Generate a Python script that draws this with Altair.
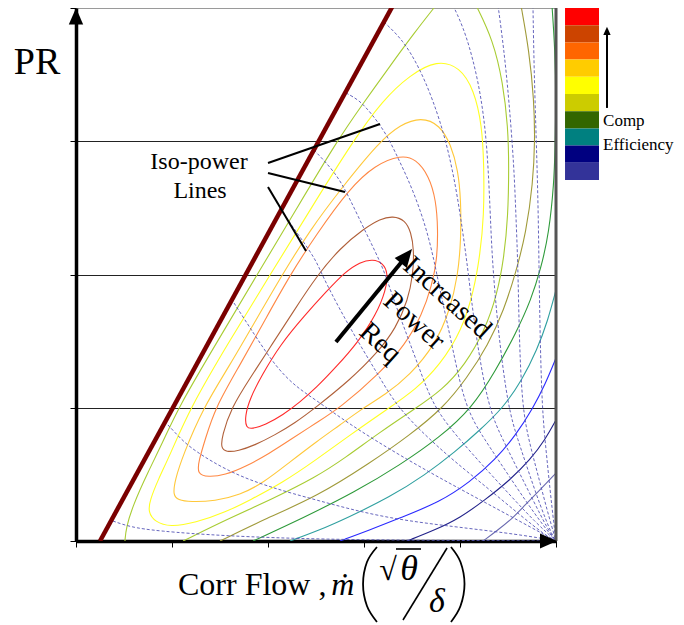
import altair as alt
import pandas as pd

# ---------------- values ----------------
# x : corrected flow (axis 0..5, unlabelled ticks), y : pressure ratio (axis 0..4)
surge_x = [0.25, 3.302]
surge_y = [0.0, 4.02]

# efficiency islands (closed)
red_x = [1.771, 1.760, 1.813, 1.938, 2.125, 2.385, 2.604, 2.802, 2.958, 3.094, 3.198, 3.250, 3.229, 3.125, 2.938, 2.719, 2.500, 2.333, 2.156, 1.969, 1.833]
red_y = [0.848, 0.938, 1.073, 1.246, 1.471, 1.696, 1.869, 2.019, 2.094, 2.116, 2.086, 2.011, 1.884, 1.696, 1.493, 1.313, 1.148, 1.043, 0.946, 0.871, 0.841]
brown_x = [1.510, 1.521, 1.615, 1.813, 2.052, 2.281, 2.500, 2.750, 3.010, 3.167, 3.302, 3.427, 3.490, 3.521, 3.510, 3.458, 3.333, 3.146, 2.854, 2.490, 2.281, 2.073, 1.865, 1.688, 1.563]
brown_y = [0.698, 0.788, 0.998, 1.223, 1.486, 1.741, 1.981, 2.199, 2.349, 2.417, 2.439, 2.409, 2.319, 2.184, 1.996, 1.809, 1.598, 1.418, 1.208, 0.998, 0.886, 0.796, 0.720, 0.675, 0.668]
orange_x = [1.260, 1.281, 1.344, 1.448, 1.708, 1.969, 2.229, 2.500, 2.844, 3.115, 3.385, 3.542, 3.677, 3.750, 3.771, 3.760, 3.708, 3.604, 3.427, 3.167, 2.750, 2.500, 2.229, 2.021, 1.760, 1.552, 1.375]
orange_y = [0.503, 0.608, 0.758, 0.998, 1.321, 1.659, 1.996, 2.296, 2.642, 2.822, 2.897, 2.867, 2.739, 2.559, 2.334, 2.109, 1.921, 1.696, 1.471, 1.261, 0.998, 0.886, 0.758, 0.660, 0.555, 0.495, 0.480]
gold_x = [1.010, 1.031, 1.115, 1.323, 1.604, 1.875, 2.146, 2.438, 2.750, 3.167, 3.375, 3.594, 3.792, 3.906, 3.979, 4.010, 4.010, 3.979, 3.896, 3.740, 3.479, 3.219, 2.990, 2.750, 2.500, 2.229, 1.948, 1.708, 1.448, 1.188, 1.063]
gold_y = [0.345, 0.458, 0.645, 0.998, 1.321, 1.659, 1.996, 2.334, 2.634, 3.002, 3.122, 3.182, 3.122, 2.972, 2.784, 2.559, 2.259, 1.996, 1.734, 1.471, 1.246, 1.096, 0.998, 0.871, 0.743, 0.593, 0.435, 0.345, 0.300, 0.293, 0.308]
yellow_x = [0.750, 0.771, 0.854, 0.979, 1.188, 1.604, 2.021, 2.438, 2.885, 3.198, 3.479, 3.760, 4.000, 4.146, 4.229, 4.250, 4.250, 4.208, 4.146, 4.021, 3.792, 3.531, 3.260, 2.854, 2.500, 2.146, 1.813, 1.563, 1.240, 0.979, 0.823]
yellow_y = [0.218, 0.308, 0.458, 0.645, 0.998, 1.508, 1.996, 2.484, 3.002, 3.310, 3.497, 3.610, 3.557, 3.385, 3.122, 2.814, 2.439, 2.146, 1.884, 1.583, 1.321, 1.133, 0.998, 0.796, 0.608, 0.435, 0.308, 0.218, 0.135, 0.105, 0.143]

# efficiency lines cut by the map boundary (open)
yga_x = [0.510, 0.521, 0.594, 0.750, 0.906, 1.063, 1.469, 1.885, 2.302, 2.719, 2.979, 3.271, 3.531, 3.750]
yga_y = [0.0, 0.098, 0.270, 0.518, 0.743, 0.998, 1.493, 1.996, 2.499, 3.002, 3.272, 3.565, 3.820, 4.020]
ygb_x = [4.167, 4.344, 4.448, 4.500, 4.510, 4.500, 4.458, 4.385, 4.260, 4.052, 3.813, 3.542, 3.167, 2.802, 2.500, 2.021, 1.604, 1.115]
ygb_y = [4.020, 3.760, 3.437, 3.107, 2.807, 2.432, 2.124, 1.846, 1.583, 1.321, 1.133, 0.998, 0.818, 0.623, 0.480, 0.308, 0.173, 0.0]
olive_x = [4.635, 4.719, 4.771, 4.781, 4.760, 4.688, 4.583, 4.458, 4.292, 4.073, 3.823, 3.479, 3.063, 2.500, 1.990, 1.500]
olive_y = [4.020, 3.685, 3.310, 3.002, 2.687, 2.311, 2.019, 1.734, 1.471, 1.223, 0.998, 0.796, 0.585, 0.330, 0.173, 0.0]
green_x = [4.958, 4.990, 5.000, 4.990, 4.979, 4.927, 4.844, 4.740, 4.583, 4.375, 4.125, 3.792, 3.375, 2.906, 2.365, 1.844]
green_y = [4.020, 3.685, 3.310, 2.934, 2.687, 2.311, 2.049, 1.809, 1.561, 1.283, 0.998, 0.780, 0.570, 0.368, 0.173, 0.0]
teal_x = [5.000, 4.917, 4.802, 4.646, 4.448, 4.208, 3.948, 3.635, 3.271, 2.823, 2.542, 2.229]
teal_y = [1.884, 1.659, 1.433, 1.208, 0.998, 0.833, 0.668, 0.495, 0.330, 0.173, 0.083, 0.0]
blue_x = [5.000, 4.885, 4.760, 4.583, 4.365, 4.104, 3.792, 3.375, 3.063, 2.750]
blue_y = [1.373, 1.171, 0.998, 0.796, 0.608, 0.443, 0.293, 0.173, 0.083, 0.0]
navy_x = [5.000, 4.885, 4.729, 4.521, 4.260, 4.000, 3.740, 3.448]
navy_y = [0.908, 0.758, 0.608, 0.458, 0.308, 0.173, 0.083, 0.0]
slate_x = [5.000, 4.833, 4.677, 4.552, 4.396, 4.240]
slate_y = [0.510, 0.383, 0.270, 0.173, 0.083, 0.0]

# iso-power lines (dashed)
d1_x = [0.385, 0.563, 0.844, 1.531, 2.573, 3.896, 5.000]
d1_y = [0.150, 0.105, 0.075, 0.038, 0.011, 0.004, 0.0]
d2_x = [0.958, 1.083, 1.219, 1.594, 2.010, 2.500, 3.198, 3.969, 4.490, 4.833, 5.000]
d2_y = [0.871, 0.773, 0.683, 0.518, 0.405, 0.308, 0.173, 0.105, 0.060, 0.023, 0.0]
d3_x = [1.646, 1.760, 1.875, 2.083, 2.292, 2.500, 2.844, 3.365, 3.885, 4.406, 4.865, 5.000]
d3_y = [1.786, 1.659, 1.531, 1.306, 1.156, 1.058, 0.878, 0.645, 0.435, 0.233, 0.053, 0.0]
d4_x = [2.156, 2.333, 2.500, 2.563, 2.750, 2.958, 3.167, 3.354, 3.688, 4.000, 4.313, 4.625, 4.885, 5.000]
d4_y = [2.462, 2.282, 2.109, 1.996, 1.734, 1.471, 1.223, 0.998, 0.758, 0.563, 0.383, 0.195, 0.045, 0.0]
d5_x = [2.479, 2.708, 2.844, 3.021, 3.198, 3.292, 3.427, 3.583, 3.729, 4.000, 4.260, 4.521, 4.781, 5.000]
d5_y = [2.934, 2.762, 2.582, 2.311, 2.056, 1.846, 1.583, 1.283, 0.998, 0.758, 0.548, 0.345, 0.143, 0.0]
d6_x = [2.813, 2.948, 3.073, 3.229, 3.365, 3.510, 3.646, 3.729, 3.792, 3.917, 4.052, 4.260, 4.469, 4.677, 4.885, 5.000]
d6_y = [3.362, 3.310, 3.212, 3.062, 2.859, 2.634, 2.357, 2.109, 1.884, 1.471, 0.998, 0.758, 0.533, 0.308, 0.098, 0.0]
d7_x = [3.208, 3.406, 3.573, 3.719, 3.854, 3.958, 4.031, 4.083, 4.156, 4.292, 4.448, 4.604, 4.760, 4.917, 5.000]
d7_y = [3.895, 3.760, 3.557, 3.310, 3.009, 2.657, 2.311, 2.034, 1.583, 0.998, 0.758, 0.533, 0.308, 0.083, 0.0]
d8_x = [3.927, 4.063, 4.198, 4.271, 4.302, 4.323, 4.344, 4.396, 4.500, 4.604, 4.708, 4.833, 4.958, 5.000]
d8_y = [4.020, 3.812, 3.437, 3.062, 2.687, 2.311, 2.034, 1.583, 0.998, 0.758, 0.533, 0.270, 0.045, 0.0]
d9_x = [4.396, 4.458, 4.510, 4.563, 4.583, 4.604, 4.615, 4.646, 4.729, 4.813, 4.906, 5.000]
d9_y = [4.020, 3.685, 3.310, 2.807, 2.432, 2.056, 1.583, 0.998, 0.720, 0.495, 0.233, 0.0]
d10_x = [4.760, 4.771, 4.792, 4.813, 4.823, 4.833, 4.854, 4.896, 4.938, 4.979, 5.000]
d10_y = [4.020, 3.557, 3.062, 2.559, 2.056, 1.583, 0.998, 0.683, 0.383, 0.120, 0.0]

# legend (comp efficiency, top = highest)
legend_colors = ["#FF0000", "#CC4400", "#FF6600", "#FFCC00", "#FFFF00",
                 "#CCCC00", "#336600", "#008080", "#000080", "#333399"]

# annotation pointers ("Iso-power Lines")
ptr_x = [2.0, 2.0, 2.0]
ptr_y = [2.837, 2.762, 2.657]
ptr_x2 = [3.167, 2.802, 2.396]
ptr_y2 = [3.129, 2.619, 2.176]

# big brackets of the flow-parameter title
lpar_x = [3.135, 3.031, 2.990, 3.031, 3.135]
rpar_x = [3.906, 4.005, 4.047, 4.005, 3.906]
par_y = [-0.045, -0.158, -0.323, -0.488, -0.608]

# ---------------- build chart ----------------
closed_curves = [
    ("red", red_x, red_y, "#FF2A2A"),
    ("brown", brown_x, brown_y, "#B0603A"),
    ("orange", orange_x, orange_y, "#FF8844"),
    ("gold", gold_x, gold_y, "#FFC83A"),
    ("yellow", yellow_x, yellow_y, "#FFFF22"),
]
open_curves = [
    ("yga", yga_x, yga_y, "#A8CC33"),
    ("ygb", ygb_x, ygb_y, "#A8CC33"),
    ("olive", olive_x, olive_y, "#A09A3A"),
    ("green", green_x, green_y, "#2E9A3A"),
    ("teal", teal_x, teal_y, "#30A0A0"),
    ("blue", blue_x, blue_y, "#2A2AFF"),
    ("navy", navy_x, navy_y, "#22228A"),
    ("slate", slate_x, slate_y, "#6A6AB0"),
]
dashed_curves = [
    ("d1", d1_x, d1_y), ("d2", d2_x, d2_y), ("d3", d3_x, d3_y), ("d4", d4_x, d4_y),
    ("d5", d5_x, d5_y), ("d6", d6_x, d6_y), ("d7", d7_x, d7_y), ("d8", d8_x, d8_y),
    ("d9", d9_x, d9_y), ("d10", d10_x, d10_y),
]
paren_curves = [("lp", lpar_x, par_y), ("rp", rpar_x, par_y)]


def curves_df(curves):
    rows = []
    for c in curves:
        name, xs, ys = c[0], c[1], c[2]
        col = c[3] if len(c) > 3 else "#000"
        for i, (a, b) in enumerate(zip(xs, ys)):
            rows.append({"curve": name, "i": i, "x": a, "y": b, "color": col})
    return pd.DataFrame(rows)


X = alt.X("x:Q", scale=alt.Scale(domain=[0, 5], nice=False, zero=False),
          axis=alt.Axis(values=[0, 1, 2, 3, 4, 5], labels=False, grid=False,
                        domainColor="black", domainWidth=3.5, tickColor="black",
                        tickWidth=1, tickSize=6, title=None))
Y = alt.Y("y:Q", scale=alt.Scale(domain=[0, 4], nice=False, zero=False),
          axis=alt.Axis(values=[0, 1, 2, 3, 4], labels=False, grid=True,
                        gridColor=alt.condition("datum.value == 4", alt.value("#9a9a9a"), alt.value("#222222")),
                        gridWidth=1, gridOpacity=1,
                        domainColor="black", domainWidth=3.5, tickColor="black",
                        tickWidth=1, tickSize=6, title=None))

closed_layer = alt.Chart(curves_df(closed_curves)).mark_line(
    interpolate="basis-closed", strokeWidth=1.1, clip=True
).encode(x=X, y=Y, color=alt.Color("color:N", scale=None), detail="curve:N", order="i:Q")

open_layer = alt.Chart(curves_df(open_curves)).mark_line(
    interpolate="basis", strokeWidth=1.1, clip=True
).encode(x="x:Q", y="y:Q", color=alt.Color("color:N", scale=None), detail="curve:N", order="i:Q")

dashed_layer = alt.Chart(curves_df(dashed_curves)).mark_line(
    interpolate="basis", strokeWidth=0.9, strokeDash=[3, 2], color="#5555B5", clip=True
).encode(x="x:Q", y="y:Q", detail="curve:N", order="i:Q")

surge_layer = alt.Chart(pd.DataFrame({"x": surge_x, "y": surge_y, "i": [0, 1]})).mark_line(
    color="#7A0000", strokeWidth=4.5, clip=True
).encode(x="x:Q", y="y:Q", order="i:Q")

border_layer = alt.Chart(pd.DataFrame({"x": [5.0], "y": [0.0], "y2": [4.0]})).mark_rule(
    color="#555555", strokeWidth=3
).encode(x="x:Q", y="y:Q", y2="y2:Q")

ptr_layer = alt.Chart(pd.DataFrame({"x": ptr_x, "y": ptr_y, "x2": ptr_x2, "y2": ptr_y2})).mark_rule(
    color="black", strokeWidth=2
).encode(x="x:Q", y="y:Q", x2="x2:Q", y2="y2:Q")

shaft_layer = alt.Chart(pd.DataFrame({"x": [2.708], "y": [1.493], "x2": [3.417], "y2": [2.116]})).mark_rule(
    color="black", strokeWidth=4
).encode(x="x:Q", y="y:Q", x2="x2:Q", y2="y2:Q")

leg_shaft = alt.Chart(pd.DataFrame({"x": [5.531], "y": [3.250], "y2": [3.80]})).mark_rule(
    color="black", strokeWidth=2
).encode(x="x:Q", y="y:Q", y2="y2:Q")

paren_layer = alt.Chart(curves_df(paren_curves)).mark_line(
    interpolate="cardinal", strokeWidth=1.8, color="black"
).encode(x="x:Q", y="y:Q", detail="curve:N", order="i:Q")

HEAD = "M0,0L0.7,1.6L-0.7,1.6Z"


def head(x, y, size, angle):
    return alt.Chart(pd.DataFrame({"x": [x], "y": [y]})).mark_point(
        shape=HEAD, filled=True, color="black", opacity=1, size=size, angle=angle, strokeWidth=0
    ).encode(x="x:Q", y="y:Q")


def txt(x, y, text, size, align="center", baseline="middle", angle=0, style="normal", font="Liberation Serif"):
    return alt.Chart(pd.DataFrame({"x": [x], "y": [y], "t": [text]})).mark_text(
        font=font, fontSize=size, align=align, baseline=baseline, angle=angle,
        fontStyle=style, color="black"
    ).encode(x="x:Q", y="y:Q", text="t:N")


# legend swatches
sw_h = 0.1291
sw = pd.DataFrame({
    "x": [5.094] * len(legend_colors),
    "x2": [5.448] * len(legend_colors),
    "y": [4.0 - k * sw_h for k in range(len(legend_colors))],
    "y2": [4.0 - (k + 1) * sw_h for k in range(len(legend_colors))],
    "color": legend_colors,
})
swatch_layer = alt.Chart(sw).mark_rect().encode(
    x="x:Q", x2="x2:Q", y="y:Q", y2="y2:Q", color=alt.Color("color:N", scale=None)
)

slash_layer = alt.Chart(pd.DataFrame({"x": [3.406, 3.333], "y": [-0.593, -0.060],
                                      "x2": [3.865, 3.594], "y2": [-0.0525, -0.060]})).mark_rule(
    color="black", strokeWidth=1.6
).encode(x="x:Q", y="y:Q", x2="x2:Q", y2="y2:Q")

layers = [
    closed_layer, open_layer, dashed_layer, surge_layer, border_layer,
    ptr_layer, shaft_layer, head(3.5, 2.191, 500, 39),
    head(0.0, 4.0, 420, 0), head(5.01, 0.0, 450, 90),
    swatch_layer, leg_shaft, head(5.531, 3.86, 110, 0),
    txt(5.49, 3.152, "Comp", 17, align="left"),
    txt(5.49, 2.972, "Efficiency", 17, align="left"),
    txt(1.281, 2.844, "Iso-power", 24),
    txt(1.292, 2.627, "Lines", 24),
    txt(3.865, 1.824, "Increased", 28, angle=42),
    txt(3.521, 1.651, "Power", 28, angle=42),
    txt(3.167, 1.486, "Req", 28, angle=42),
    txt(-0.406, 3.587, "PR", 38),
    txt(1.0625, -0.405, "Corr Flow ,", 32, align="left", baseline="alphabetic"),
    txt(2.66, -0.405, "ṁ", 32, align="left", baseline="alphabetic", style="italic"),
    txt(3.25, -0.293, "√", 32, baseline="alphabetic"),
    txt(3.469, -0.293, "θ", 36, baseline="alphabetic", style="italic"),
    txt(3.760, -0.533, "δ", 34, baseline="alphabetic", style="italic"),
    slash_layer, paren_layer,
]

chart = alt.layer(*layers).properties(
    width=480, height=533,
    autosize=alt.AutoSizeParams(type="none"),
    padding={"left": 68, "top": 0, "right": 120, "bottom": 84},
).configure_view(strokeWidth=0)

chart.save("out.html", embed_options={"renderer": "svg", "actions": False})
